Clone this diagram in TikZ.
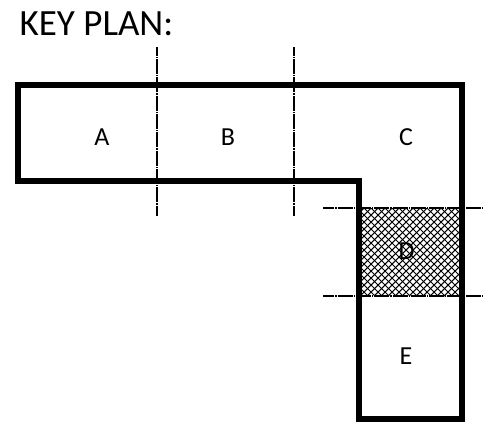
\documentclass[tikz,border=0pt]{standalone}
\usepackage{fontspec}
\setmainfont{Carlito}
\tikzset{
  outline/.style={line width=5.3pt,line join=miter,line cap=butt},
  vcut/.style={line width=1.7pt,dash pattern=on 15pt off 1pt on 1.3pt off 1pt,dash phase=6.15pt},
  hcut/.style={line width=1.7pt,dash pattern=on 15pt off 1pt on 1.3pt off 1pt,dash phase=3.65pt},
  hatchline/.style={line width=1.05pt},
  zonelabel/.style={font=\fontsize{26}{31}\selectfont,inner sep=0pt,anchor=base},
}
\begin{document}
\begin{tikzpicture}[x=1pt,y=-1pt]
\useasboundingbox (0,0) rectangle (484,434);
\fill[white] (0,0) rectangle (484,434);
\begin{scope}
\clip (359,208) rectangle (462,296);
\foreach \k in {280,287,...,560} {
  \draw[hatchline] (\k,208) -- ++(88,88);
  \draw[hatchline] (\k,208) -- ++(-88,88);
}
\end{scope}
\coordinate (v1a) at (157,47); \coordinate (v1b) at (157,216);
\coordinate (v2a) at (294,47); \coordinate (v2b) at (294,216);
\coordinate (h1a) at (323,208); \coordinate (h1b) at (484,208);
\coordinate (h2a) at (323,296); \coordinate (h2b) at (484,296);
\draw[vcut] (v1a) -- (v1b);
\draw[vcut] (v2a) -- (v2b);
\draw[hcut] (h1a) -- (h1b);
\draw[hcut] (h2a) -- (h2b);
\draw[outline] (18,85) -- (462,85) -- (462,419) -- (359,419) -- (359,181) -- (18,181) -- cycle;
\node[font=\fontsize{37}{44}\selectfont,anchor=base west,inner sep=0pt] (title) at (19.5,35) {KEY PLAN:};
\node[zonelabel] (A) at (102,145) {A};
\node[zonelabel] (B) at (228,145) {B};
\node[zonelabel] (C) at (406,145) {C};
\node[zonelabel] (D) at (406.5,259) {D};
\node[zonelabel] (E) at (406,364) {E};
\end{tikzpicture}
\end{document}
